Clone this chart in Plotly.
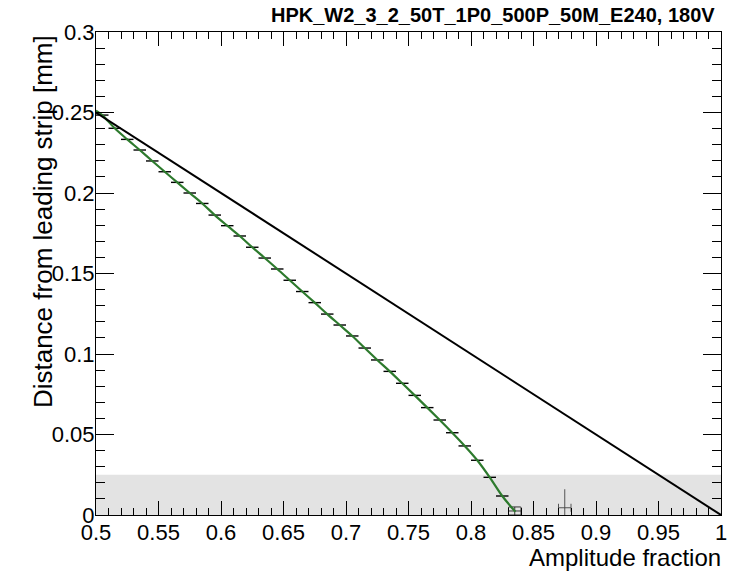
import plotly.graph_objects as go

# ---- data ----
bin_x = [0.505, 0.515, 0.525, 0.535, 0.545, 0.555, 0.565, 0.575, 0.585, 0.595,
         0.605, 0.615, 0.625, 0.635, 0.645, 0.655, 0.665, 0.675, 0.685, 0.695,
         0.705, 0.715, 0.725, 0.735, 0.745, 0.755, 0.765, 0.775, 0.785, 0.795,
         0.805, 0.815, 0.825]
bin_y = [0.2484, 0.2402, 0.2333, 0.2267, 0.2199, 0.2132, 0.2066, 0.2000, 0.1935, 0.1863,
         0.1797, 0.1733, 0.1663, 0.1596, 0.1528, 0.1458, 0.1388, 0.1319, 0.1248, 0.1180,
         0.1112, 0.1037, 0.0963, 0.0892, 0.0818, 0.0743, 0.0667, 0.0590, 0.0511, 0.0429,
         0.0340, 0.0234, 0.0118]
bin_half_width = 0.005

low_x = [0.835]
low_y = [0.0025]
low_err = [0.0025]

tail_x = [0.875]
tail_y = [0.0045]
tail_err_up = [0.0115]
tail_err_down = [0.0045]

fit_x = [0.5] + bin_x + [0.8355]
fit_y = [0.2512] + bin_y + [0.002]

ref_x = [0.5, 1.0]
ref_y = [0.25, 0.0]

band_x = [0.5, 1.0]
band_y = [0.0, 0.025]

x_ticks = [0.5, 0.55, 0.6, 0.65, 0.7, 0.75, 0.8, 0.85, 0.9, 0.95, 1.0]
x_ticktext = ["0.5", "0.55", "0.6", "0.65", "0.7", "0.75", "0.8", "0.85", "0.9", "0.95", "1"]
y_ticks = [0, 0.05, 0.1, 0.15, 0.2, 0.25, 0.3]
y_ticktext = ["0", "0.05", "0.1", "0.15", "0.2", "0.25", "0.3"]

title_text = "HPK_W2_3_2_50T_1P0_500P_50M_E240, 180V"
x_title = "Amplitude fraction"
y_title = "Distance from leading strip [mm]"

FONT = "Liberation Sans, Arial, Helvetica, sans-serif"

fig = go.Figure()

# gray band
fig.add_shape(type="rect", xref="x", yref="y",
              x0=band_x[0], x1=band_x[1], y0=band_y[0], y1=band_y[1],
              fillcolor="#e3e3e3", line=dict(width=0), layer="below")

# histogram bars (horizontal bin-width error bars)
fig.add_trace(go.Scatter(
    x=bin_x, y=bin_y, mode="markers",
    marker=dict(size=1, color="black"),
    error_x=dict(type="constant", value=bin_half_width, width=0, thickness=1.4, color="black"),
    showlegend=False, hoverinfo="skip"))

fig.add_trace(go.Scatter(
    x=low_x, y=low_y, mode="markers",
    marker=dict(size=1, color="#333333"),
    error_x=dict(type="constant", value=bin_half_width, width=4, thickness=1, color="#333333"),
    error_y=dict(type="data", array=low_err, width=6, thickness=1, color="#333333"),
    showlegend=False, hoverinfo="skip"))

fig.add_trace(go.Scatter(
    x=tail_x, y=tail_y, mode="markers",
    marker=dict(size=1, color="#555555"),
    error_x=dict(type="constant", value=bin_half_width, width=4, thickness=1, color="#555555"),
    error_y=dict(type="data", array=tail_err_up, arrayminus=tail_err_down, width=0,
                 thickness=1, color="#555555"),
    showlegend=False, hoverinfo="skip"))

# fit curve
fig.add_trace(go.Scatter(
    x=fit_x, y=fit_y, mode="lines", line=dict(color="#2d7a2d", width=2.2, shape="spline"),
    showlegend=False, hoverinfo="skip"))

# linear reference
fig.add_trace(go.Scatter(
    x=ref_x, y=ref_y, mode="lines", line=dict(color="black", width=2),
    showlegend=False, hoverinfo="skip"))

axis_common = dict(
    showline=True, linecolor="black", linewidth=1, mirror="allticks",
    ticks="inside", tickcolor="black", tickwidth=1,
    showgrid=False, zeroline=False,
    tickfont=dict(family=FONT, size=22, color="black"),
)

fig.update_xaxes(range=[0.5, 1.0], tickvals=x_ticks, ticktext=x_ticktext, ticklen=14,
                 ticklabelstandoff=-2,
                 minor=dict(dtick=0.01, tick0=0.5, ticks="inside", ticklen=7,
                            tickcolor="black", tickwidth=1, showgrid=False),
                 **axis_common)
fig.update_yaxes(range=[0, 0.3], tickvals=y_ticks, ticktext=y_ticktext, ticklen=18,
                 ticklabelstandoff=-4,
                 minor=dict(dtick=0.01, tick0=0, ticks="inside", ticklen=9,
                            tickcolor="black", tickwidth=1, showgrid=False),
                 **axis_common)

fig.add_annotation(text="<b>" + title_text + "</b>", xref="paper", yref="paper",
                   x=0.9936, y=1.0352, xanchor="right", yanchor="middle", showarrow=False,
                   font=dict(family=FONT, size=20, color="black"))
fig.add_annotation(text=x_title, xref="paper", yref="paper",
                   x=1.003, y=-0.088, xanchor="right", yanchor="middle", showarrow=False,
                   font=dict(family=FONT, size=24, color="black"))
fig.add_annotation(text=y_title, xref="paper", yref="paper", textangle=-90,
                   x=-0.0838, y=0.998, xanchor="center", yanchor="top", showarrow=False,
                   font=dict(family=FONT, size=26, color="black"))

fig.update_layout(
    width=739, height=572, autosize=False,
    margin=dict(l=96, r=18, t=32, b=57, pad=0),
    paper_bgcolor="white", plot_bgcolor="white",
    font=dict(family=FONT, size=20, color="black"),
)

fig.write_html("out.html")
